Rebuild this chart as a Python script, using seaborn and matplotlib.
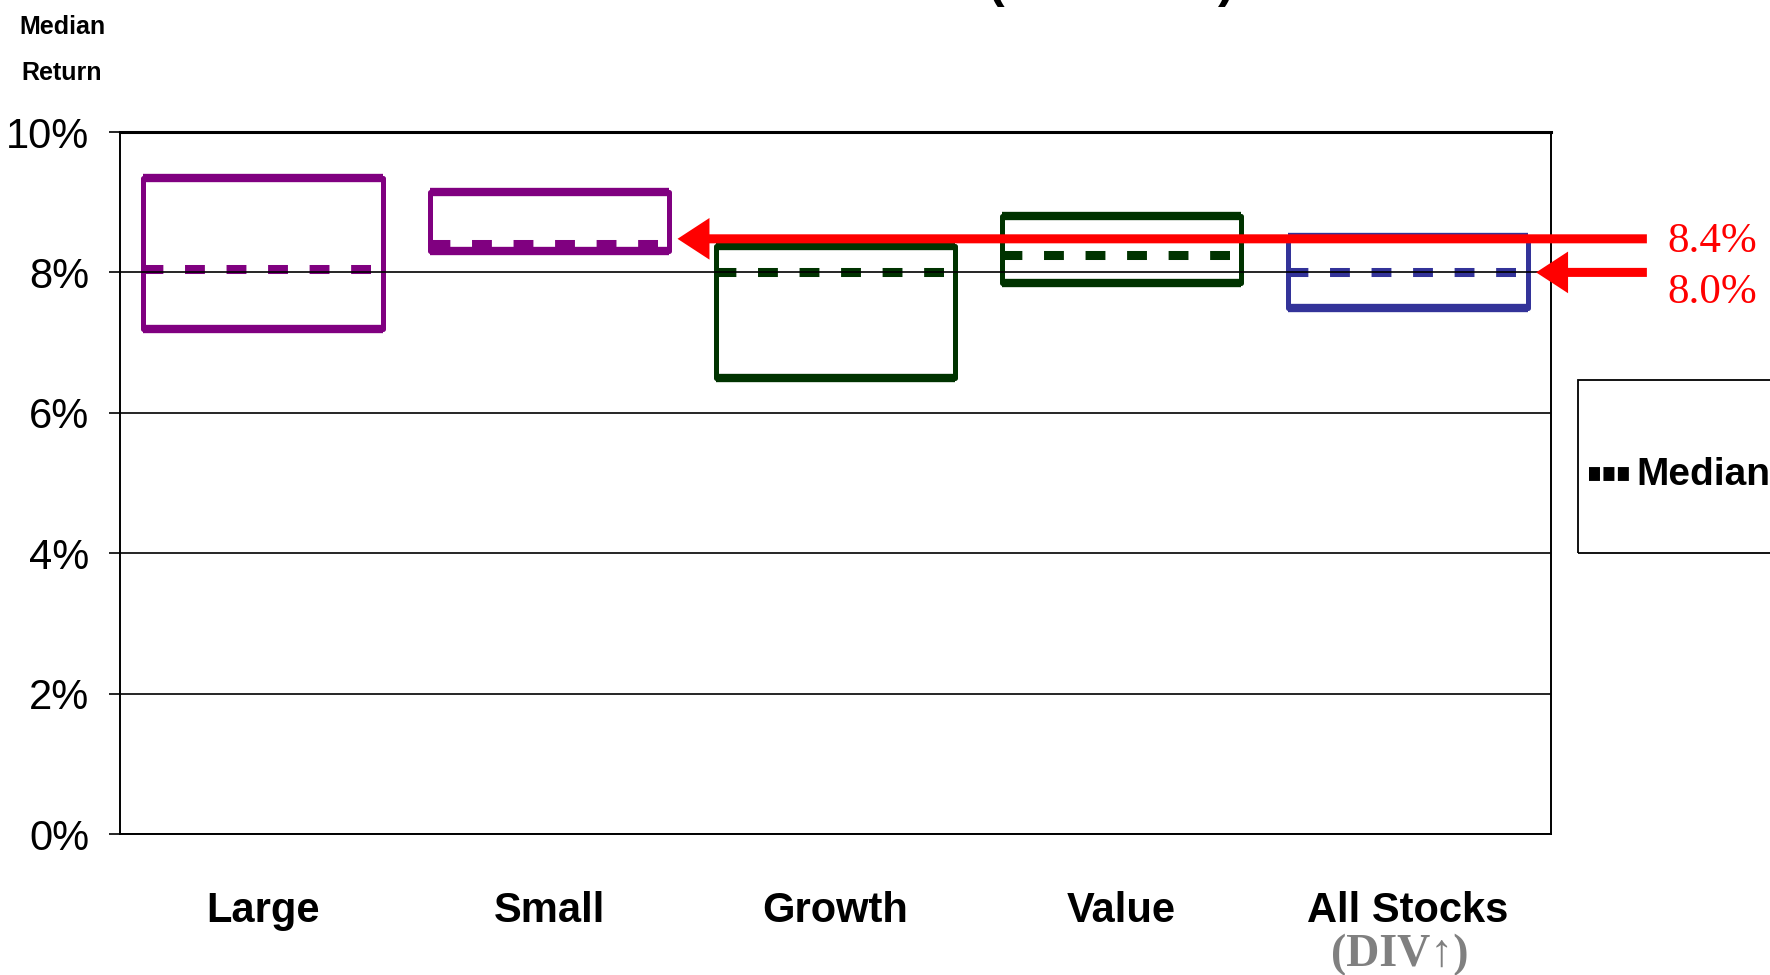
import matplotlib
matplotlib.use("Agg")
import matplotlib.pyplot as plt
import matplotlib.transforms as mtransforms
from matplotlib.patches import Rectangle
from matplotlib.lines import Line2D
import seaborn as sns
import pandas as pd

# ---- data -------------------------------------------------------------
categories = ["Large", "Small", "Growth", "Value", "All Stocks"]
box_top = [9.35, 9.15, 8.38, 8.8, 8.5]
box_bottom = [7.2, 8.3, 6.5, 7.85, 7.5]
median = [8.05, 8.4, 8.0, 8.25, 8.0]
box_colors = ["#800080", "#800080", "#003300", "#003300", "#333399"]
y_ticks = [0, 2, 4, 6, 8, 10]
y_tick_labels = ["0%", "2%", "4%", "6%", "8%", "10%"]
callout_targets = ["Small", "All Stocks"]
sub_label = "(DIV\u2191)"

# ---- style ------------------------------------------------------------
sns.set_theme(style="white")
SANS = ["Liberation Sans", "DejaVu Sans"]
SERIF = ["Liberation Serif", "DejaVu Serif"]
plt.rcParams["font.family"] = SANS

W, H = 1770, 975
fig = plt.figure(figsize=(W / 100, H / 100), dpi=100)
fig.patch.set_facecolor("white")
left, right, top, bottom = 120, 1551, 132, 834
ax = fig.add_axes([left / W, 1 - bottom / H, (right - left) / W, (bottom - top) / H])
ax.set_facecolor("white")

# ---- floating range boxes ----------------------------------------------
box_width = 0.836
half = box_width / 2
df = pd.DataFrame({
    "category": categories,
    "span": [t - b for t, b in zip(box_top, box_bottom)],
})
sns.barplot(data=df, x="category", y="span", hue="category",
            order=categories, hue_order=categories, palette=box_colors,
            fill=False, width=box_width, linewidth=3.6, errorbar=None,
            legend=False, ax=ax)
for patch, b, c in zip(ax.patches, box_bottom, box_colors):
    patch.set_y(b)
    patch.set_edgecolor(c)
    patch.set_facecolor("none")
    patch.set_joinstyle("round")

# heavier top and bottom edges
xs = list(range(len(categories)))
for edge in (box_top, box_bottom):
    ax.hlines(edge, [x - half for x in xs], [x + half for x in xs],
              colors=box_colors, lw=6.0, capstyle="butt", zorder=1.5)

# dashed median inside each box
for i, (m, c) in enumerate(zip(median, box_colors)):
    ax.plot([i - half, i + half], [m, m], color=c, lw=6.5,
            dashes=(2.2, 2.4), dash_capstyle="butt", zorder=2)

# ---- axes --------------------------------------------------------------
ax.set_xlim(-0.5, len(categories) - 0.5)
ax.set_ylim(0, 10)
ax.set_yticks(y_ticks)
ax.set_yticklabels(y_tick_labels)
ax.set_axisbelow(False)
ax.yaxis.grid(True, color="black", lw=1.2)
ax.xaxis.grid(False)
for name, s in ax.spines.items():
    s.set_visible(True)
    s.set_color("black")
    s.set_linewidth(1.4)
ax.spines["top"].set_linewidth(2.2)

ax.tick_params(axis="y", left=True, direction="out", length=8, width=1.2,
               color="black", pad=14, labelsize=30, labelcolor="black")
ax.set_xticks(xs)
ax.set_xticklabels(categories, fontsize=30, fontweight="bold", color="black")
ax.tick_params(axis="x", bottom=False, length=0, pad=41)
ax.set_xlabel("")
ax.set_ylabel("")

ax.annotate(sub_label, xy=(categories.index("All Stocks"), 0),
            xycoords=("data", "axes fraction"), xytext=(-8, -121),
            textcoords="offset pixels", ha="center", va="center",
            fontsize=33, fontweight="bold", color="#808080",
            family=SERIF, annotation_clip=False)

# ---- red call-out arrows -------------------------------------------------
x_tail = 4.835
nudges = [5.5, 0.0]          # pixel lift of each arrow shaft
text_drop = [-2.5, -20.5]    # pixel offset of each label from its shaft
for name, lift, drop in zip(callout_targets, nudges, text_drop):
    idx = categories.index(name)
    val = median[idx]
    tip = idx + half + 0.03
    tr = ax.transData + mtransforms.Affine2D().translate(0, lift)
    ax.annotate("", xy=(tip, val), xytext=(x_tail, val),
                xycoords=tr, textcoords=tr,
                arrowprops=dict(arrowstyle="simple,head_length=2.3,head_width=3.0,tail_width=0.65",
                                mutation_scale=10, color="red", lw=0,
                                shrinkA=0, shrinkB=0),
                annotation_clip=False, zorder=6)
    ax.annotate(f"{val:.1f}%", xy=(4.905, val), xycoords=tr,
                xytext=(0, drop), textcoords="offset pixels",
                ha="left", va="center", fontsize=31, color="red",
                family=SERIF, annotation_clip=False)

# ---- legend panel ----------------------------------------------------------
fig.add_artist(Rectangle((1578 / W, 1 - 553 / H), 300 / W, (553 - 380) / H,
                         transform=fig.transFigure, fill=False,
                         edgecolor="black", lw=1.3, clip_on=False))
fig.add_artist(Line2D([1589 / W, 1630 / W], [1 - 474 / H] * 2,
                      transform=fig.transFigure, color="black", lw=10,
                      dashes=(0.79, 0.25), dash_capstyle="butt"))
fig.text(1636 / W, 1 - 485 / H, "Median", fontsize=28, fontweight="bold",
         ha="left", va="baseline", color="black")

# ---- axis caption and title --------------------------------------------
fig.text(62 / W, 1 - 27 / H, "Median", ha="center", va="center",
         fontsize=18, fontweight="bold", color="black")
fig.text(62 / W, 1 - 73 / H, "Return", ha="center", va="center",
         fontsize=18, fontweight="bold", color="black")
fig.text(988 / W, 1 + 3 / H, "(", ha="left", va="baseline", fontsize=36,
         fontweight="bold", color="black")
fig.text(1235 / W, 1 + 3 / H, ")", ha="right", va="baseline", fontsize=36,
         fontweight="bold", color="black")

fig.savefig("out.png", dpi=100, facecolor="white")
